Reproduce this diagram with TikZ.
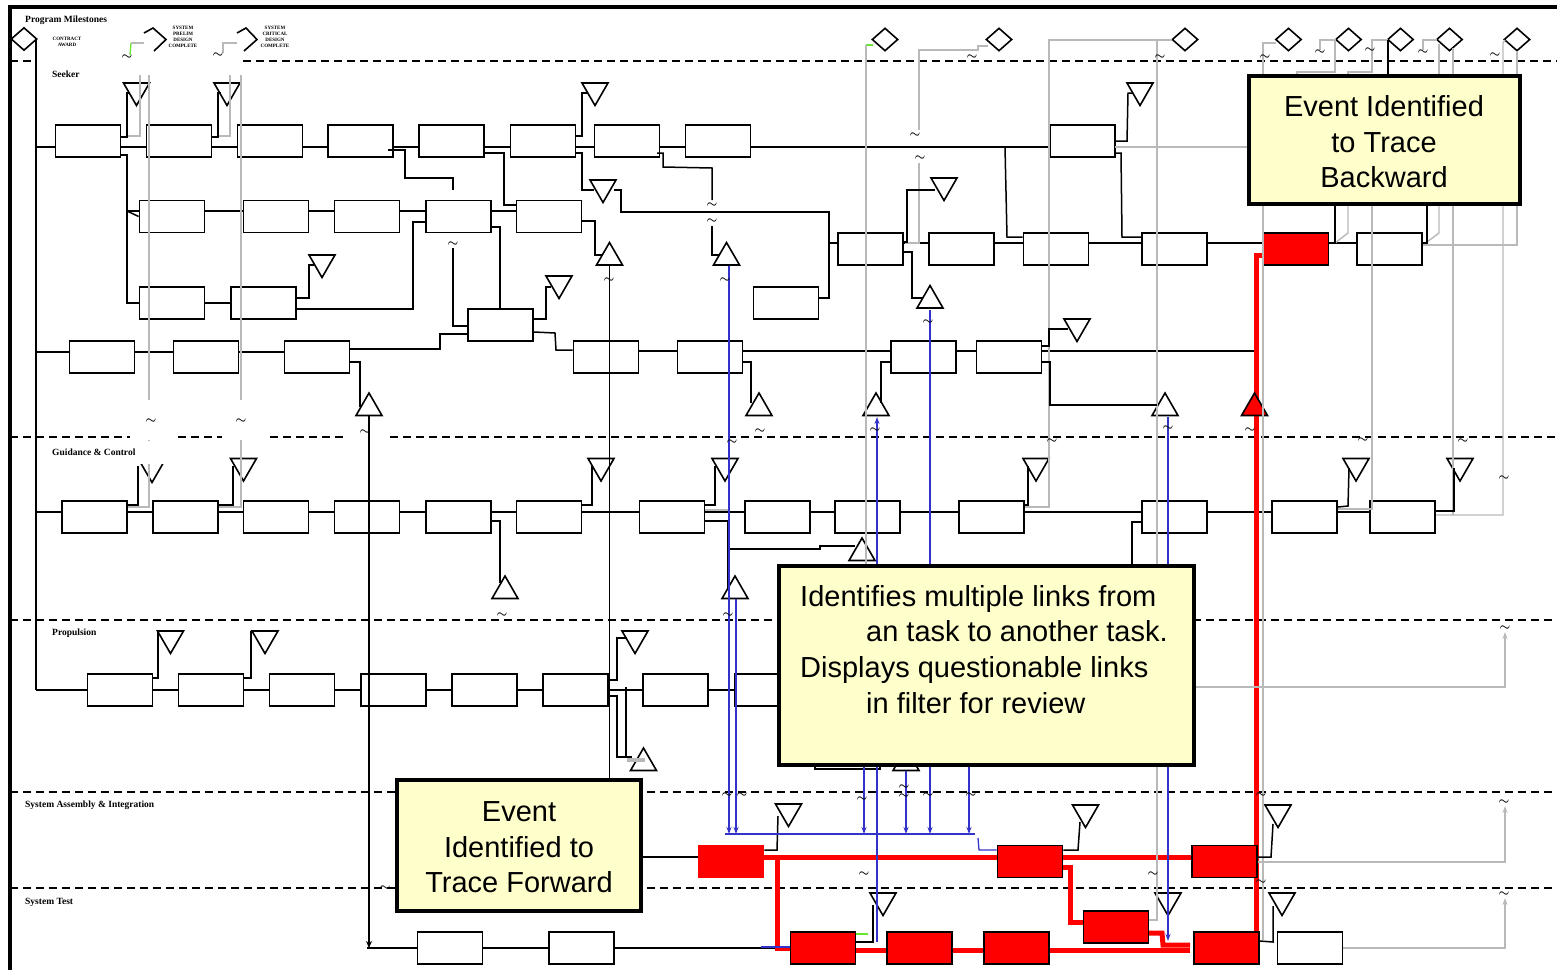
\documentclass[tikz,border=0pt]{standalone}
\usepackage{fontspec}
\setmainfont{Liberation Serif}
\newfontfamily\callfont{Liberation Sans}
\usetikzlibrary{shapes.geometric,arrows.meta}
\definecolor{callbg}{RGB}{255,255,204}
\definecolor{lnblue}{RGB}{51,51,204}
\definecolor{lngrey}{RGB}{185,185,185}
\definecolor{lngreen}{RGB}{102,230,51}
\begin{document}
\begin{tikzpicture}[x=1pt,y=-1pt,
  ln/.style={line width=1.5pt,black},
  gl/.style={line width=1.4pt,lngrey},
  bl/.style={line width=1.3pt,lnblue},
  rd/.style={line width=5pt,red},
  lane/.style={line width=1.5pt,dash pattern=on 8pt off 5pt},
  box/.style={draw,line width=1.8pt,fill=white,minimum width=65pt,minimum height=32pt,inner sep=0pt},
  rbox/.style={box,fill=red},
  tup/.style={draw,line width=1.6pt,fill=white,regular polygon,regular polygon sides=3,minimum size=30pt,inner sep=0pt},
  tdn/.style={tup,shape border rotate=180},
  dia/.style={draw,line width=1.6pt,fill=white,diamond,minimum width=26pt,minimum height=23pt,inner sep=0pt},
  call/.style={draw,line width=4pt,fill=callbg},
  ctext/.style={font=\callfont\fontsize{29}{35}\selectfont,inner sep=0pt},
  lbl/.style={font=\fontsize{9.5}{10}\selectfont\bfseries,anchor=west,inner sep=0pt},
  mstxt/.style={font=\fontsize{5}{6}\selectfont\bfseries,align=center,inner sep=0pt},
  tl/.style={font=\fontsize{12}{12}\selectfont\boldmath,inner sep=0pt},
  barr/.style={-{Stealth[length=7pt,width=5pt]}},
]
\useasboundingbox (0,0) rectangle (1557,970);
% frame
\draw[line width=3.5pt] (10,970) -- (10,7) -- (1557,7);
% lanes
\draw[lane] (10,61) -- (36,61);
\draw[lane] (243,61) -- (1557,61);
\draw[lane] (10,437) -- (130,437);
\draw[lane] (178,437) -- (222,437);
\draw[lane] (270,437) -- (343,437);
\draw[lane] (390,437) -- (1557,437);
\draw[lane] (10,620) -- (1557,620);
\draw[lane] (10,792) -- (1557,792);
\draw[lane] (10,888) -- (1557,888);

% base row lines
\draw[ln] (36,39) -- (36,690);
\draw[ln] (36,147) -- (1050,147);
\draw[ln] (127,211) -- (517,211);
\draw[ln] (828,243) -- (1357,243);
\draw[ln] (127,303) -- (231,303);
\draw[ln] (36,352) -- (350,352);
\draw[ln] (574,351) -- (1254,351);
\draw[ln] (36,512) -- (1435,512);
\draw[ln] (36,690) -- (800,690);
\draw[ln] (641,857) -- (698,857);
\draw[ln] (367,948) -- (791,948);

% red trace path
\draw[rd] (764,857) -- (998,857);
\draw[rd] (1062,857) -- (1192,857);
\draw[rd] (777,857) -- (777,948) -- (790,948);
\draw[rd] (856,950) -- (1190,950);
\draw[rd] (1062,867) -- (1070,867) -- (1070,922) -- (1084,922);
\draw[rd] (1148,933) -- (1162,933) -- (1163,945) -- (1190,945);
\draw[rd] (1256,948) -- (1256,255) -- (1264,255);

% ---------- boxes ----------
\node[box] (s1) at (88,141) {};
\node[box] (s2) at (179,141) {};
\node[box] (s3) at (270,141) {};
\node[box] (s4) at (360.5,141) {};
\node[box] (s5) at (451.5,141) {};
\node[box] (s6) at (543,141) {};
\node[box] (s7) at (627,141) {};
\node[box] (s8) at (718,141) {};
\node[box] (s9) at (1082.5,141) {};
\node[box] (a1) at (172,216.5) {};
\node[box] (a2) at (276,216.5) {};
\node[box] (a3) at (367,216.5) {};
\node[box] (a4) at (458.5,216.5) {};
\node[box] (a5) at (549,216.5) {};
\node[box] (c1) at (870.5,249) {};
\node[box] (c2) at (961.5,249) {};
\node[box] (c3) at (1056,249) {};
\node[box] (c4) at (1174.5,249) {};
\node[rbox] (c5) at (1296,249) {};
\node[box] (c6) at (1389.5,249) {};
\node[box] (b1) at (172,303) {};
\node[box] (b2) at (263.5,303) {};
\node[box] (b3) at (500.5,325) {};
\node[box] (b4) at (786,303) {};
\node[box] (e1) at (102,357) {};
\node[box] (e2) at (206,357) {};
\node[box] (e3) at (317,357) {};
\node[box] (e4) at (606,357) {};
\node[box] (e5) at (710,357) {};
\node[box] (e6) at (923.5,357) {};
\node[box] (e7) at (1009,357) {};
\node[box] (g1) at (94.5,517) {};
\node[box] (g2) at (185.5,517) {};
\node[box] (g3) at (276,517) {};
\node[box] (g4) at (367,517) {};
\node[box] (g5) at (458.5,517) {};
\node[box] (g6) at (549,517) {};
\node[box] (g7) at (672,517) {};
\node[box] (g8) at (777.5,517) {};
\node[box] (g9) at (867.5,517) {};
\node[box] (g10) at (991.5,517) {};
\node[box] (g11) at (1174.5,517) {};
\node[box] (g12) at (1304.5,517) {};
\node[box] (g13) at (1402.5,517) {};
\node[box] (p1) at (120,690) {};
\node[box] (p2) at (211,690) {};
\node[box] (p3) at (302,690) {};
\node[box] (p4) at (393.5,690) {};
\node[box] (p5) at (484.5,690) {};
\node[box] (p6) at (575.5,690) {};
\node[box] (p7) at (675.5,690) {};
\node[box] (p8) at (767.5,690) {};
\node[box] (p9) at (847.5,753) {};
\node[rbox,draw=red] (x1) at (731,861.5) {};
\node[rbox] (x2) at (1030,861.5) {};
\node[rbox] (x3) at (1224.5,861.5) {};
\node[box] (t1) at (450,948) {};
\node[box] (t2) at (581.5,948) {};
\node[rbox] (t3) at (823,948) {};
\node[rbox] (t4) at (919.5,948) {};
\node[rbox] (t5) at (1016.5,948) {};
\node[rbox] (t6) at (1116,927) {};
\node[rbox] (t7) at (1226.5,948) {};
\node[box] (t8) at (1310,948) {};

% ---------- triangles ----------
\node[tup] (u1) at (609.5,257.5) {};
\node[tup] (u2) at (726.5,257.5) {};
\node[tup] (u3) at (930,300.5) {};
\node[tup] (u4) at (369,408) {};
\node[tup] (u5) at (759,408) {};
\node[tup] (u6) at (876,408) {};
\node[tup] (u7) at (1165,408) {};
\node[tup,fill=red] (u8) at (1254.5,408) {};
\node[tup] (u9) at (505,591) {};
\node[tup] (u10) at (735,591) {};
\node[tup] (u11) at (862,553) {};
\node[tup] (u12) at (643.5,763) {};
\node[tup] (u13) at (906,763) {};
\node[tdn] (d1) at (136.5,90.5) {};
\node[tdn] (d2) at (227,90.5) {};
\node[tdn] (d3) at (595,90.5) {};
\node[tdn] (d4) at (603,187.5) {};
\node[tdn] (d5) at (944,185.5) {};
\node[tdn] (d6) at (1140,90.5) {};
\node[tdn] (d7) at (322,262.5) {};
\node[tdn] (d8) at (559,283.5) {};
\node[tdn] (d9) at (1077,326.5) {};
\node[tdn] (d10) at (152,467.5) {};
\node[tdn] (d11) at (243.5,466) {};
\node[tdn] (d12) at (601,466) {};
\node[tdn] (d13) at (725,466) {};
\node[tdn] (d14) at (1036,466) {};
\node[tdn] (d15) at (1356,466) {};
\node[tdn] (d16) at (1460,466) {};
\node[tdn] (d17) at (170.5,638.5) {};
\node[tdn] (d18) at (265,638.5) {};
\node[tdn] (d19) at (635,638.5) {};
\node[tdn] (d20) at (788.5,811.5) {};
\node[tdn] (d21) at (1085.5,812.5) {};
\node[tdn] (d22) at (1278,812.5) {};
\node[tdn] (d23) at (883,900.5) {};
\node[tdn] (d24) at (1168,900.5) {};
\node[tdn] (d25) at (1282,900.5) {};

% ---------- milestones ----------
\node[dia] (m0) at (24,39) {};
\node[dia] (m1) at (885,39.5) {};
\node[dia] (m2) at (999,39.5) {};
\node[dia] (m3) at (1185,39.5) {};
\node[dia] (m4) at (1288.5,39.5) {};
\node[dia] (m5) at (1348.5,39.5) {};
\node[dia] (m6) at (1400.5,39.5) {};
\node[dia] (m7) at (1449.5,39.5) {};
\node[dia] (m8) at (1517,39.5) {};
\draw[line width=1.6pt] (144,33) -- (153,28) -- (166,39.5) -- (154,51);
\draw[line width=1.6pt] (237,33) -- (246,28) -- (257,39.5) -- (244,51);
\draw[line width=1.3pt,lngreen] (130,55) -- (131,43);
\draw[gl] (131,43) -- (144,43);
\draw[gl] (223,53) -- (223,43) -- (237,43);
\node[mstxt] (ca) at (67,42) {CONTRACT\\AWARD};
\node[mstxt] (pd) at (183,37) {SYSTEM\\PRELIM\\DESIGN\\COMPLETE};
\node[mstxt] (cd) at (275,37) {SYSTEM\\CRITICAL\\DESIGN\\COMPLETE};

% ---------- grey links ----------
\draw[gl] (128,136) -- (140,136) -- (140,75);
\draw[gl] (149,75) -- (149,400);
\draw[gl] (149,440) -- (149,507) -- (128,507);
\draw[gl] (218,136) -- (230,136) -- (230,75);
\draw[gl] (241,75) -- (241,400);
\draw[gl] (241,440) -- (241,507) -- (219,507);
\draw[line width=1.3pt,lngreen] (873,45) -- (866,45);
\draw[gl] (866,45) -- (866,750);
\draw[gl] (988,46) -- (978,46) -- (978,50) -- (919,50) -- (919,130);
\draw[gl] (919,163) -- (919,243) -- (905,243);
\draw[gl] (1172,40) -- (1049,40) -- (1049,507) -- (1025,507);
\draw[gl] (1157,40) -- (1157,920) -- (1149,920);
\draw[gl] (1115,147) -- (1249,147);
\draw[gl] (1276,43) -- (1263,43) -- (1263,940);
\draw[gl] (1297,76) -- (1297,72) -- (1335,72) -- (1335,40) -- (1320,40) -- (1320,50);
\draw[gl] (1348,76) -- (1348,72) -- (1372,72) -- (1372,40) -- (1388,40);
\draw[gl] (1372,204) -- (1372,509) -- (1338,509);
\draw[gl] (1348,204) -- (1348,233) -- (1335,243);
\draw[gl] (1423,50) -- (1423,40) -- (1437,40);
\draw[gl] (1439,44) -- (1439,76);
\draw[gl] (1439,204) -- (1439,233) -- (1427,242);
\draw[gl] (1453,48) -- (1453,515);
\draw[gl] (1505,40) -- (1503,43) -- (1503,515) -- (1436,515);
\draw[gl] (1517,51) -- (1517,245) -- (1423,245);
\draw[gl,barr] (1194,687) -- (1505,687) -- (1505,632);
\draw[gl,barr] (1258,862) -- (1505,862) -- (1505,806);
\draw[gl,barr] (1343,948) -- (1505,948) -- (1505,898);
\draw[gl] (705,510) -- (728,510);
\draw[line width=4pt,lngrey] (627,760) -- (645,760);

% ---------- black connectors ----------
\draw[ln] (s1.east |- 0,137) -- (127,137) -- (127,93) -- (130,93);
\draw[ln] (s1.east |- 0,155) -- (127,155) -- (127,303) -- (b1.west);
\draw[ln] (127,211) -- (a1.west);
\draw[ln] (s2.east |- 0,137) -- (218,137) -- (218,93) -- (221,93);
\draw[ln] (388,150) -- (405,150) -- (405,178) -- (453,178) -- (453,190);
\draw[ln] (s5.east |- 0,153) -- (504,153) -- (504,205) -- (a5.west |- 0,205);
\draw[ln] (a4.east |- 0,227) -- (500,227) -- (b3.north -| 500,0);
\draw[ln] (453,248) -- (453,326) -- (b3.west |- 0,326);
\draw[ln] (b2.east |- 0,298) -- (309,298) -- (309,265) -- (314,265);
\draw[ln] (b2.east |- 0,309) -- (413,309) -- (413,222) -- (a4.west |- 0,222);
\draw[ln] (b3.east |- 0,319) -- (546,319) -- (546,287) -- (551,287);
\draw[ln] (b3.east |- 0,332) -- (555,333) -- (556,350) -- (e4.west |- 0,350);
\draw[ln] (e3.east |- 0,349) -- (440,349) -- (440,334) -- (b3.west |- 0,334);
\draw[ln] (e3.east |- 0,362) -- (360,362) -- (360,407);
\draw[ln,-{Stealth[open,length=7pt,width=6pt]}] (u4.south |- 0,416) -- (369,948);
\draw[ln] (s6.east |- 0,136) -- (582,136) -- (582,93) -- (588,93);
\draw[ln] (s6.east |- 0,153) -- (582,153) -- (582,190) -- (594,190);
\draw[ln] (614,190) -- (621,190) -- (621,212) -- (829,212) -- (829,243) -- (c1.west |- 0,243);
\draw[ln] (b4.east |- 0,298) -- (829,298) -- (829,243);
\draw[ln] (a5.east |- 0,221) -- (595,221) -- (595,255) -- (603,255);
\draw[ln] (609.5,266) -- (609.5,780);
\draw[ln] (657,153) -- (663,153) -- (663,167) -- (712,168) -- (712,200);
\draw[ln] (712,226) -- (712,255) -- (720,255);
\draw[ln] (1005,147) -- (1007,237) -- (c3.west |- 0,237);
\draw[ln] (s9.east |- 0,153) -- (1121,153) -- (1122,237) -- (c4.west |- 0,237);
\draw[ln] (s9.east |- 0,141) -- (1127,141) -- (1128,93) -- (1133,93);
\draw[ln] (c1.east |- 0,242) -- (907,242) -- (907,190) -- (935,190);
\draw[ln] (c1.east |- 0,252) -- (912,252) -- (912,298) -- (923,298);
\draw[ln] (e6.west |- 0,362) -- (881,362) -- (881,403);
\draw[ln] (e7.east |- 0,346) -- (1049,346) -- (1049,329) -- (1068,329);
\draw[ln] (e7.east |- 0,362) -- (1050,362) -- (1050,405) -- (1157,405);
\draw[ln] (e5.east |- 0,362) -- (751,362) -- (751,403);
\draw[ln] (g1.east |- 0,505) -- (138,505) -- (138,466);
\draw[ln] (g2.east |- 0,505) -- (233,505) -- (233,466);
\draw[ln] (g6.east |- 0,505) -- (592,505) -- (592,466);
\draw[ln] (g7.east |- 0,505) -- (715,505) -- (715,466);
\draw[ln] (g7.east |- 0,521) -- (728,521) -- (728,588);
\draw[ln] (728,549) -- (820,549) -- (820,546) -- (855,546);
\draw[ln] (g5.east |- 0,521) -- (500,521) -- (500,583);
\draw[ln] (g10.east |- 0,505) -- (1028,505) -- (1028,466);
\draw[ln] (1132,566) -- (1132,522) -- (g11.west |- 0,522);
\draw[ln] (g12.east |- 0,507) -- (1348,506) -- (1349,468);
\draw[ln] (g13.east |- 0,511) -- (1454,511) -- (1454,468);
\draw[ln] (p1.east |- 0,678) -- (158,678) -- (158,631);
\draw[ln] (p2.east |- 0,678) -- (251,678) -- (251,631);
\draw[ln] (p6.east |- 0,680) -- (617,680) -- (617,638) -- (627,638);
\draw[ln] (p6.east |- 0,696) -- (617,696) -- (617,757) -- (632,757);
\draw[ln] (626,687) -- (626,758);
\draw[ln] (x1.east |- 0,850) -- (777,850) -- (778,816);
\draw[ln] (x2.east |- 0,850) -- (1078,850) -- (1080,822);
\draw[ln] (x3.east |- 0,857) -- (1271,857) -- (1273,824);
\draw[ln] (t3.east |- 0,942) -- (873,942) -- (873,905);
\draw[line width=1.3pt,lngreen] (856,934) -- (868,934);
\draw[ln] (t7.east |- 0,941) -- (1273,942) -- (1273,906);
\draw[ln] (1388,40) -- (1388,76);
\draw[ln] (1335,204) -- (1335,243) -- (c5.east |- 0,243);
\draw[ln] (1427,204) -- (1427,243) -- (c6.east |- 0,243);

% ---------- blue links ----------
\draw[bl,barr] (729,266) -- (729,834);
\draw[bl,barr] (736,599) -- (736,834);
\draw[bl,barr] (877,942) -- (877,417);
\draw[bl,barr] (930,310) -- (930,834);
\draw[bl,barr] (864,566) -- (864,834);
\draw[bl,barr] (906,771) -- (906,834);
\draw[bl,barr] (969,566) -- (969,834);
\draw[bl,barr] (1168,417) -- (1168,941);
\draw[bl] (725,834) -- (975,834);
\draw[bl] (978,838) -- (979,850) -- (x2.west |- 0,850);
\draw[bl] (761,947) -- (t3.west |- 0,947);

% ---------- labels ----------
\node[lbl] (lpm) at (25,20) {Program Milestones};
\node[lbl] (lsk) at (52,74) {Seeker};
\fill[white] (37,441) rectangle (168,464);
\node[lbl] (lgc) at (52,452) {Guidance \& Control};
\node[lbl] (lpr) at (52,633) {Propulsion};
\node[lbl] (lsa) at (25,805) {System Assembly \& Integration};
\node[lbl] (lst) at (25,902) {System Test};

% ---------- tildes ----------
\foreach \tx/\ty in {127/57,218/55,972/57,915/135,920/158,712/205,712/221,609/280,725/280,
  453/244,928/322,151/421,241/421,365/432,760/431,875/430,1168/428,1250/430,732/442,
  1052/441,1363/440,1463/441,1504/478,502/615,728/615,1505/628,727/795,742/795,862/799,
  904/787,904/796,928/795,971/795,1261/795,1504/802,385/888,864/874,1153/874,1261/882,
  1504/894,1160/57,1265/57,1320/52,1370/50,1423/52,1495/55}
  \node[tl] at (\tx,\ty) {$\sim$};

% ---------- callouts ----------
\draw[call] (1249,76) rectangle (1520,204);
\node[ctext,anchor=base] (cb1) at (1384,116) {Event Identified};
\node[ctext,anchor=base] (cb2) at (1384,152) {to Trace};
\node[ctext,anchor=base] (cb3) at (1384,187) {Backward};

\draw[call] (779,566) rectangle (1194,765);
\node[ctext,anchor=base west] (cm1) at (800,606) {Identifies multiple links from};
\node[ctext,anchor=base west] (cm2) at (866,641) {an task to another task.};
\node[ctext,anchor=base west] (cm3) at (800,677) {Displays questionable links};
\node[ctext,anchor=base west] (cm4) at (866,713) {in filter for review};

\draw[call] (397,780) rectangle (641,911);
\node[ctext,anchor=base] (cf1) at (519,821) {Event};
\node[ctext,anchor=base] (cf2) at (519,857) {Identified to};
\node[ctext,anchor=base] (cf3) at (519,892) {Trace Forward};
\end{tikzpicture}
\end{document}
